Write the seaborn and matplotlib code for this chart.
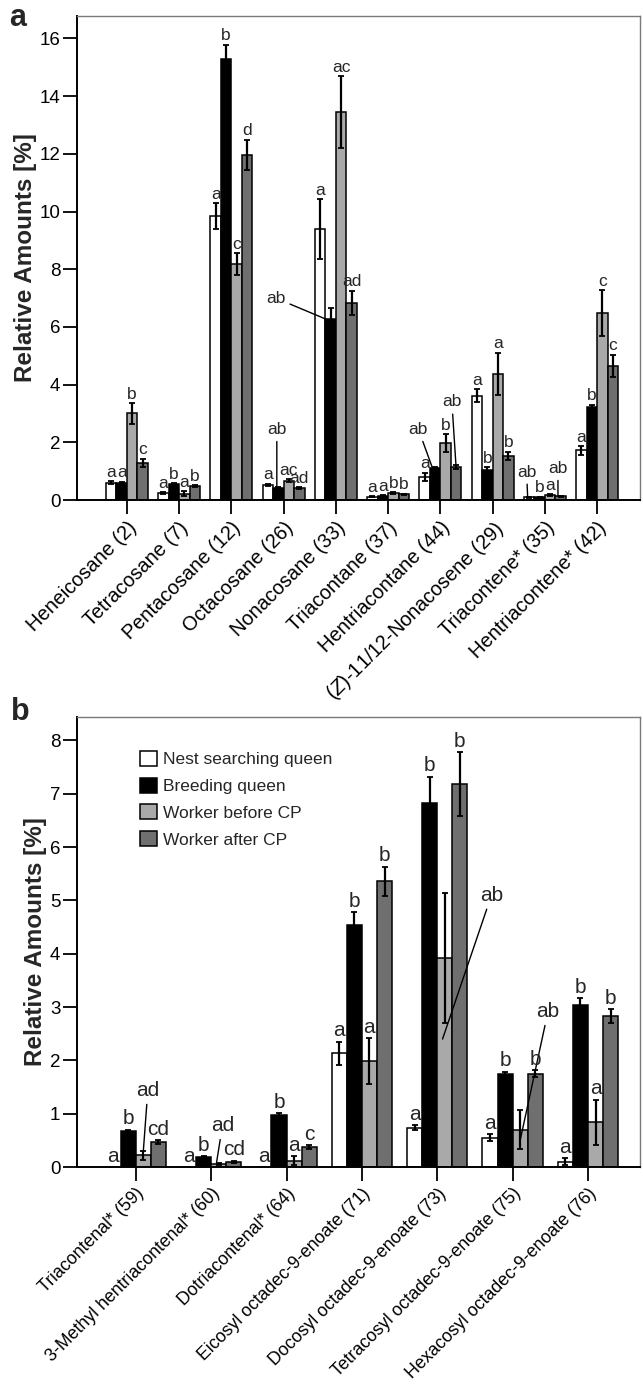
import matplotlib
matplotlib.use("Agg")
import matplotlib.pyplot as plt
from matplotlib.patches import Patch
from matplotlib.container import BarContainer
import seaborn as sns
import pandas as pd
import numpy as np

# ---------------- data ----------------
groups = ["Nest searching queen", "Breeding queen", "Worker before CP", "Worker after CP"]
colors = ["#ffffff", "#000000", "#a9a9a9", "#6f6f6f"]

cats_a = ["Heneicosane (2)", "Tetracosane (7)", "Pentacosane (12)", "Octacosane (26)",
          "Nonacosane (33)", "Triacontane (37)", "Hentriacontane (44)",
          "($\\mathit{Z}$)-11/12-Nonacosene (29)", "Triacontene* (35)", "Hentriacontene* (42)"]
nest_a = [0.60, 0.25, 9.85, 0.52, 9.38, 0.12, 0.80, 3.62, 0.10, 1.72]
breed_a = [0.60, 0.55, 15.28, 0.42, 6.27, 0.15, 1.10, 1.05, 0.10, 3.22]
wbef_a = [3.00, 0.22, 8.17, 0.67, 13.45, 0.25, 1.98, 4.38, 0.18, 6.48]
waft_a = [1.28, 0.48, 11.97, 0.42, 6.83, 0.20, 1.15, 1.52, 0.13, 4.66]
nest_a_err = [0.05, 0.03, 0.45, 0.05, 1.04, 0.02, 0.15, 0.22, 0.02, 0.15]
breed_a_err = [0.04, 0.03, 0.50, 0.04, 0.37, 0.02, 0.06, 0.08, 0.02, 0.08]
wbef_a_err = [0.35, 0.08, 0.38, 0.06, 1.25, 0.03, 0.30, 0.73, 0.03, 0.80]
waft_a_err = [0.15, 0.03, 0.52, 0.03, 0.42, 0.02, 0.06, 0.15, 0.02, 0.38]
nest_a_let = ["a", "a", "a", "a", "a", "a", "a", "a", "ab", "a"]
breed_a_let = ["a", "b", "b", "ab", "ab", "a", "ab", "b", "b", "b"]
wbef_a_let = ["b", "a", "c", "ac", "ac", "b", "b", "a", "a", "c"]
waft_a_let = ["c", "b", "d", "ad", "ad", "b", "ab", "b", "ab", "c"]

cats_b = ["Triacontenal* (59)", "3-Methyl hentriacontenal* (60)", "Dotriacontenal* (64)",
          "Eicosyl octadec-9-enoate (71)", "Docosyl octadec-9-enoate (73)",
          "Tetracosyl octadec-9-enoate (75)", "Hexacosyl octadec-9-enoate (76)"]
nest_b = [0.0, 0.0, 0.0, 2.13, 0.74, 0.55, 0.10]
breed_b = [0.67, 0.18, 0.97, 4.54, 6.82, 1.74, 3.04]
wbef_b = [0.22, 0.05, 0.12, 1.99, 3.92, 0.70, 0.84]
waft_b = [0.47, 0.10, 0.37, 5.36, 7.18, 1.75, 2.83]
nest_b_err = [0.0, 0.0, 0.0, 0.22, 0.04, 0.07, 0.07]
breed_b_err = [0.03, 0.02, 0.04, 0.24, 0.50, 0.05, 0.13]
wbef_b_err = [0.08, 0.02, 0.08, 0.43, 1.22, 0.36, 0.42]
waft_b_err = [0.03, 0.02, 0.04, 0.27, 0.60, 0.07, 0.13]
nest_b_let = ["a", "a", "a", "a", "a", "a", "a"]
breed_b_let = ["b", "b", "b", "b", "b", "b", "b"]
wbef_b_let = ["ad", "ad", "a", "a", "ab", "ab", "a"]
waft_b_let = ["cd", "cd", "c", "b", "b", "b", "b"]

# leader-line label layout: (category, group) -> (dx_text, y_text, dx_end, y_end)
leaders_a = {(3, 1): (-0.03, 2.45, -0.03, 0.47),
             (4, 1): (-1.05, 7.0, -0.09, 6.27),
             (6, 1): (-0.32, 2.45, -0.05, 1.10),
             (6, 3): (-0.08, 3.40, 0.0, 1.15),
             (8, 0): (-0.05, 0.97, -0.03, 0.10),
             (8, 3): (-0.05, 1.10, -0.05, 0.13)}
leaders_b = {(0, 2): (0.06, 1.44, 0.0, 0.30),
             (1, 2): (0.05, 0.78, -0.03, 0.07),
             (4, 2): (0.62, 5.10, -0.03, 2.40),
             (5, 2): (0.37, 2.92, 0.0, 0.50)}

# ---------------- style ----------------
sns.set_theme(style="ticks")
plt.rcParams["font.family"] = ["Liberation Sans", "DejaVu Sans"]
plt.rcParams["mathtext.fontset"] = "custom"
plt.rcParams["mathtext.it"] = "Liberation Sans:italic"
plt.rcParams["mathtext.rm"] = "Liberation Sans"

fig = plt.figure(figsize=(6.43, 13.89), dpi=100)
ax_a = fig.add_axes([77 / 643, 1 - 500 / 1389, 563 / 643, 484 / 1389])
ax_b = fig.add_axes([77 / 643, 1 - 1167 / 1389, 563 / 643, 450 / 1389])


def draw(ax, cats, vals, errs, lets, leaders, ylim, yticks, xlim, letsize, xlabsize):
    rows = []
    for g, v in zip(groups, vals):
        for c, val in zip(cats, v):
            rows.append({"compound": c, "group": g, "value": val})
    df = pd.DataFrame(rows)
    sns.barplot(data=df, x="compound", y="value", hue="group", order=cats,
                hue_order=groups, palette=colors, edgecolor="black", linewidth=1.1,
                errorbar=None, width=0.8, legend=False, ax=ax)
    bar_conts = [c for c in ax.containers if isinstance(c, BarContainer)]
    for gi, cont in enumerate(bar_conts):
        xs = np.array([p.get_x() + p.get_width() / 2 for p in cont.patches])
        v = np.array(vals[gi])
        e = np.array(errs[gi])
        m = e > 0
        ax.errorbar(xs[m], v[m], yerr=e[m], fmt="none", ecolor="black",
                    elinewidth=1.6, capsize=2.2, capthick=1.3, zorder=5)
        for ci, (x, val, er, lt) in enumerate(zip(xs, v, e, lets[gi])):
            if (ci, gi) in leaders:
                dxt, yt, dxe, ye = leaders[(ci, gi)]
                ax.annotate(lt, xy=(x + dxe, ye), xytext=(x + dxt, yt),
                            ha="center", va="center", fontsize=letsize, zorder=6,
                            arrowprops=dict(arrowstyle="-", lw=1.0, color="black",
                                            shrinkA=1, shrinkB=0))
            else:
                ax.annotate(lt, xy=(x, val + er), xytext=(0, 1.0),
                            textcoords="offset points", ha="center", va="bottom",
                            fontsize=letsize, zorder=6)
    ax.set_xlim(*xlim)
    ax.set_ylim(*ylim)
    ax.set_yticks(yticks)
    ax.set_yticklabels([str(t) for t in yticks])
    ax.set_xlabel("")
    ax.set_ylabel("Relative Amounts [%]", fontsize=17.5, fontweight="bold", labelpad=2)
    ax.set_xticks(range(len(cats)))
    ax.set_xticklabels(cats, rotation=45, ha="right", rotation_mode="anchor",
                       fontsize=xlabsize)
    ax.tick_params(axis="y", direction="out", length=10, width=1.3, colors="black",
                   labelsize=13.5, pad=2)
    ax.tick_params(axis="x", direction="out", length=10, width=1.3, colors="black", pad=3)
    for s in ["left", "bottom"]:
        ax.spines[s].set_linewidth(1.4)
        ax.spines[s].set_color("black")
    for s in ["top", "right"]:
        ax.spines[s].set_visible(True)
        ax.spines[s].set_linewidth(1.0)
        ax.spines[s].set_color("#7a7a7a")
    ax.set_facecolor("white")


draw(ax_a, cats_a, [nest_a, breed_a, wbef_a, waft_a],
     [nest_a_err, breed_a_err, wbef_a_err, waft_a_err],
     [nest_a_let, breed_a_let, wbef_a_let, waft_a_let], leaders_a,
     (0, 16.78), list(range(0, 17, 2)), (-0.954, 9.82), 12.5, 14.3)
draw(ax_b, cats_b, [nest_b, breed_b, wbef_b, waft_b],
     [nest_b_err, breed_b_err, wbef_b_err, waft_b_err],
     [nest_b_let, breed_b_let, wbef_b_let, waft_b_let], leaders_b,
     (0, 8.44), list(range(0, 9)), (-0.78, 6.69), 15, 12.8)

handles = [Patch(facecolor=c, edgecolor="black", linewidth=1.1) for c in colors]
ax_b.legend(handles, groups, loc="upper left", bbox_to_anchor=(0.112, 0.925),
            frameon=False, fontsize=12.5, handlelength=0.95, handleheight=0.95,
            handletextpad=0.35, labelspacing=0.6, borderpad=0, borderaxespad=0)

fig.text(18 / 643, 1 - 18 / 1389, "a", fontsize=22, fontweight="bold", ha="center", va="center")
fig.text(20 / 643, 1 - 712 / 1389, "b", fontsize=22, fontweight="bold", ha="center", va="center")

fig.savefig("out.png", dpi=100, facecolor="white")
